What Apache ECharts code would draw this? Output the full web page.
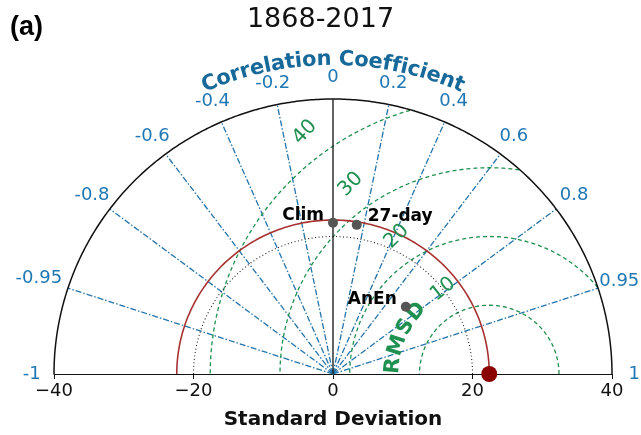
<!DOCTYPE html>
<html><head><meta charset="utf-8">
<script src="https://cdn.jsdelivr.net/npm/echarts@6/dist/echarts.min.js"></script>
<style>html,body{margin:0;padding:0;background:#fff}#c{width:641px;height:435px}</style>
</head><body><div id="c"></div>
<script>
// ---------------- data ----------------
const chartTitle = '1868-2017';
const panelLabel = '(a)';
const refStd = 22.4;                      // observed standard deviation
const stdMax = 40;
const stdTicks = [-40, -20, 0, 20, 40];
const stdGridLevels = [20];
const corrTickLabels = [-1, -0.95, -0.8, -0.6, -0.4, -0.2, 0, 0.2, 0.4, 0.6, 0.8, 0.95, 1];
const corrLines = [-0.95, -0.8, -0.6, -0.4, -0.2, 0.2, 0.4, 0.6, 0.8, 0.95];
const rmsdLevels = [10, 20, 30, 40];
const modelNames = ['Clim', '27-day', 'AnEn'];
const modelStd = [22.0, 21.96, 14.3];
const modelCorr = [0.0, 0.155, 0.73];
const corrTitle = 'Correlation Coefficient';
const rmsdTitle = 'RMSD';
const xTitle = 'Standard Deviation';

// ---------------- helpers ----------------
const FONT = '"DejaVu Sans", sans-serif';
const PX = 558 / 80; // pixels per data unit (grid width / x-range)
const BLUE = '#1f77b4', GREEN = '#1f9050', RED = '#a83232';
function pol(r, c) { return [r * c, r * Math.sqrt(Math.max(0, 1 - c * c))]; }
function polA(cx, r, deg) { const a = deg * Math.PI / 180; return [cx + r * Math.cos(a), r * Math.sin(a)]; }
function lineS(data, color, width, type, z) {
  return { type: 'line', data, symbol: 'none', showSymbol: false, silent: true, animation: false,
    clip: false, z: z || 2, lineStyle: { color, width, type } };
}
function textS(data, label, z) {
  return { type: 'scatter', silent: true, animation: false, clip: false, symbolSize: 0, z: z || 5,
    itemStyle: { opacity: 1 }, data, label: Object.assign({ show: true, position: 'inside', formatter: p => p.value[2] }, label) };
}
const ctx = document.createElement('canvas').getContext('2d');
function charWidths(str, font) { ctx.font = font; return [...str].map(ch => ctx.measureText(ch).width); }

const series = [];
// outer semicircle
const outer = []; for (let a = 0; a <= 180; a += 0.5) outer.push(polA(0, stdMax, a));
series.push(lineS(outer, '#111', 1.5, 'solid', 3));
// std grid (dotted)
stdGridLevels.forEach(r => { const d = []; for (let a = 0; a <= 180; a += 0.5) d.push(polA(0, r, a)); series.push(lineS(d, '#222', 1.1, [1, 2.5], 3)); });
// reference std arc
{ const d = []; for (let a = 0; a <= 180; a += 0.5) d.push(polA(0, refStd, a)); series.push(lineS(d, RED, 1.6, 'solid', 4)); }
// correlation rays
corrLines.forEach(c => series.push(lineS([[0, 0], pol(stdMax, c)], '#2474ab', 1.3, [6, 2, 1.5, 2], 2)));
series.push(lineS([[0, 0], [0, stdMax]], '#222', 1.4, 'solid', 3));
// RMSD circles centered on reference
rmsdLevels.forEach(rho => {
  const d = [];
  for (let a = 0; a <= 180; a += 0.25) { const p = polA(refStd, rho, a); if (p[0] * p[0] + p[1] * p[1] <= stdMax * stdMax) d.push(p); }
  series.push(lineS(d, GREEN, 1.3, [4, 3], 2));
});
// correlation tick labels
series.push(textS(corrTickLabels.map(c => { const p = pol(43.2 + (c === -0.95 ? 1.2 : 0), c); return [p[0], p[1], String(c)]; }),
  { color: BLUE, fontSize: 18, fontFamily: FONT }));
// RMSD level labels: placed where a straight guide line crosses circle of radius rho+4
rmsdLevels.forEach(rho => {
  const R = rho + 4, k = 0.8665, b = 26.45 - refStd;
  const A = k * k + 1, B = -2 * b * k, C = b * b - R * R;
  const y = (-B + Math.sqrt(B * B - 4 * A * C)) / (2 * A), x = refStd + b - k * y;
  const ang = Math.atan2(y, x - refStd) * 180 / Math.PI;
  series.push(textS([[x, y, String(rho)]], { color: GREEN, fontSize: 20, fontFamily: FONT, rotate: ang - 80 }));
});
// curved "Correlation Coefficient"
{
  const f = 'bold 21px ' + FONT; const ws = charWidths(corrTitle, f); const W = ws.reduce((a, b) => a + b, 0);
  const Rpx = 319; let cum = 0;
  [...corrTitle].forEach((ch, i) => {
    const th = Math.PI / 2 + (W / 2 - (cum + ws[i] / 2)) / Rpx; cum += ws[i];
    series.push(textS([[Rpx / PX * Math.cos(th), Rpx / PX * Math.sin(th), ch]],
      { rotate: th * 180 / Math.PI - 90, color: '#17699a', fontSize: 21, fontWeight: 'bold', fontFamily: FONT }));
  });
}
// curved "RMSD"
{
  const f = 'bold 21px ' + FONT; const ws = charWidths(rmsdTitle, f); const gap = 2.5;
  const Rpx = 13.8 * PX; let ang = 175 * Math.PI / 180;
  [...rmsdTitle].forEach((ch, i) => {
    if (i > 0) ang -= ((ws[i - 1] + ws[i]) / 2 + gap) / Rpx;
    const p = polA(refStd, 13.8, ang * 180 / Math.PI);
    series.push(textS([[p[0], p[1], ch]], { rotate: ang * 180 / Math.PI - 90, color: GREEN, fontSize: 21, fontWeight: 'bold', fontFamily: FONT }));
  });
}
// models
const labelPos = { 'Clim': ['left', [0, -7]], '27-day': ['right', [2, -8]], 'AnEn': ['left', [0, -7]] };
modelNames.forEach((n, i) => {
  const p = pol(modelStd[i], modelCorr[i]);
  series.push({ type: 'scatter', silent: true, animation: false, clip: false, z: 8, symbolSize: 10,
    itemStyle: { color: '#555', opacity: 1 }, data: [[p[0], p[1], n]],
    label: { show: true, position: labelPos[n][0], offset: labelPos[n][1], distance: 4, formatter: q => q.value[2], color: '#000', fontSize: 17, fontWeight: 'bold', fontFamily: FONT } });
});
// reference point
series.push({ type: 'scatter', silent: true, animation: false, clip: false, z: 9, symbolSize: 16,
  itemStyle: { color: '#8b0000', opacity: 1 }, data: [[refStd, 0]] });

const chart = echarts.init(document.getElementById('c'), null, { renderer: 'canvas' });
chart.setOption({
  animation: false,
  backgroundColor: '#fff',
  title: [
    { text: chartTitle, left: 'center', top: 1, textStyle: { fontSize: 27, fontWeight: 'normal', color: '#111', fontFamily: FONT } },
    { text: panelLabel, left: 5, top: 9, textStyle: { fontSize: 27, fontWeight: 'bold', color: '#000', fontFamily: '"Liberation Sans", Arial, sans-serif' } }
  ],
  grid: { left: 54, width: 558, top: 99, height: 279 },
  xAxis: { type: 'value', min: -40, max: 40, interval: 20, splitLine: { show: false },
    axisLine: { lineStyle: { color: '#111', width: 1.2 } },
    axisTick: { show: true, length: 5, lineStyle: { color: '#111' } },
    axisLabel: { color: '#111', fontSize: 18, fontFamily: FONT, margin: 8, formatter: v => v < 0 ? '\u2212' + Math.abs(v) : String(v) },
    name: xTitle, nameLocation: 'middle', nameGap: 36,
    nameTextStyle: { fontSize: 20, fontWeight: 'bold', color: '#111', fontFamily: FONT } },
  yAxis: { type: 'value', min: 0, max: 40, show: false },
  series
});
</script></body></html>
